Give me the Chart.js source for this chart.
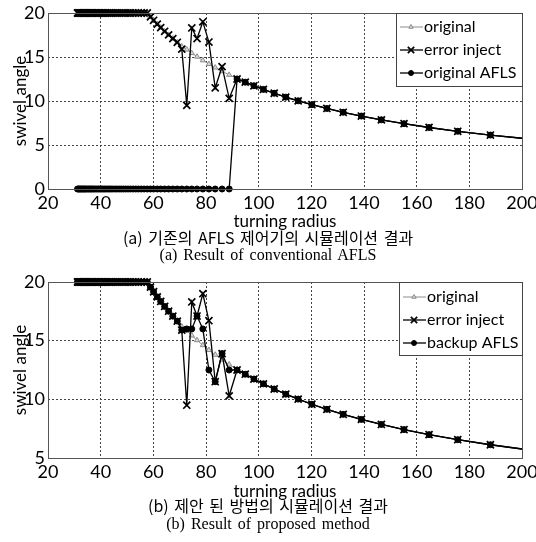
<!DOCTYPE html>
<html>
<head>
<meta charset="utf-8">
<script src="https://cdn.jsdelivr.net/npm/chart.js@4.4.0/dist/chart.umd.min.js"></script>
<style>
  body { margin: 0; background: #fff; }
  #wrap { position: relative; width: 536px; height: 542px; overflow: hidden; }
  canvas { position: absolute; left: 0; }
  .cap { position: absolute; left: 0; width: 536px; text-align: center; color: #000; white-space: nowrap; }
  .ko { font-family: "Noto Sans CJK KR"; font-size: 16px; word-spacing: 2px; }
  .en { font-family: "Liberation Serif"; font-size: 16px; word-spacing: 2px; }
</style>
</head>
<body>
<div id="wrap">
  <canvas id="chartA" width="536" height="232" style="top:0"></canvas>
  <canvas id="chartB" width="536" height="232" style="top:270px"></canvas>
  <div class="cap ko" style="top:225px">(a) 기존의 AFLS 제어기의 시뮬레이션 결과</div>
  <div class="cap en" style="top:246px">(a) Result of conventional AFLS</div>
  <div class="cap ko" style="top:493px">(b) 제안 된 방법의 시뮬레이션 결과</div>
  <div class="cap en" style="top:515px">(b) Result of proposed method</div>
</div>
<script>
// turning radius of every sample (ascending)
const radius = [31.2, 31.6, 31.9, 32.3, 32.7, 33.1, 33.5, 33.9, 34.3, 34.7,
  35.2, 35.6, 36.1, 36.5, 37.0, 37.5, 38.0, 38.6, 39.1, 39.7,
  40.2, 40.8, 41.4, 42.0, 42.7, 43.3, 44.0, 44.7, 45.5, 46.2,
  47.0, 47.8, 48.6, 49.5, 50.4, 51.3, 52.3, 53.3, 54.3, 55.4,
  56.5, 57.7, 58.9, 60.1, 61.5, 62.8, 64.3, 65.8, 67.4, 69.1,
  70.8, 72.7, 74.6, 76.6, 78.8, 81.1, 83.5, 86.1, 88.8, 91.8,
  94.9, 98.2, 101.8, 105.9, 110.3, 115.0, 120.2, 125.9, 132.1, 139.0,
  146.6, 155.2, 164.7, 175.6, 188.0, 202.2];

const original = [20, 20, 20, 20, 20, 20, 20, 20, 20, 20,
  20, 20, 20, 20, 20, 20, 20, 20, 20, 20,
  20, 20, 20, 20, 20, 20, 20, 20, 20, 20,
  20, 20, 20, 20, 20, 20, 20, 20, 20, 20,
  20, 20, 19.56, 19.17, 18.73, 18.34, 17.92, 17.51, 17.09, 16.67,
  16.2, 15.85, 15.44, 15.04, 14.62, 14.20, 13.80, 13.38, 12.97, 12.55,
  12.14, 11.73, 11.32, 10.88, 10.44, 10.02, 9.58, 9.15, 8.72, 8.29,
  7.86, 7.42, 6.99, 6.56, 6.13, 5.70];

const errorInject = [20, 20, 20, 20, 20, 20, 20, 20, 20, 20,
  20, 20, 20, 20, 20, 20, 20, 20, 20, 20,
  20, 20, 20, 20, 20, 20, 20, 20, 20, 20,
  20, 20, 20, 20, 20, 20, 20, 20, 20, 20,
  20, 20, 19.56, 19.17, 18.73, 18.34, 17.92, 17.51, 17.09, 16.67,
  15.9, 9.5, 18.3, 17.1, 19.0, 16.7, 11.5, 13.9, 10.3, 12.5,
  12.14, 11.73, 11.32, 10.88, 10.44, 10.02, 9.58, 9.15, 8.72, 8.29,
  7.86, 7.42, 6.99, 6.56, 6.13, 5.70];

const originalAfls = [0, 0, 0, 0, 0, 0, 0, 0, 0, 0,
  0, 0, 0, 0, 0, 0, 0, 0, 0, 0,
  0, 0, 0, 0, 0, 0, 0, 0, 0, 0,
  0, 0, 0, 0, 0, 0, 0, 0, 0, 0,
  0, 0, 0, 0, 0, 0, 0, 0, 0, 0,
  0, 0, 0, 0, 0, 0, 0, 0, 0, 12.5,
  12.14, 11.73, 11.32, 10.88, 10.44, 10.02, 9.58, 9.15, 8.72, 8.29,
  7.86, 7.42, 6.99, 6.56, 6.13, 5.70];

const backupAfls = [20, 20, 20, 20, 20, 20, 20, 20, 20, 20,
  20, 20, 20, 20, 20, 20, 20, 20, 20, 20,
  20, 20, 20, 20, 20, 20, 20, 20, 20, 20,
  20, 20, 20, 20, 20, 20, 20, 20, 20, 20,
  20, 20, 19.56, 19.17, 18.73, 18.34, 17.92, 17.51, 17.09, 16.67,
  15.9, 16.0, 16.0, 17.1, 16.0, 12.5, 11.5, 13.9, 12.5, 12.5,
  12.14, 11.73, 11.32, 10.88, 10.44, 10.02, 9.58, 9.15, 8.72, 8.29,
  7.86, 7.42, 6.99, 6.56, 6.13, 5.70];

const FONT = 'Lato';

function pts(values) {
  return radius.map((r, i) => ({ x: r, y: values[i] }));
}

const styles = {
  original: { color: '#8c8c8c', pointStyle: 'triangle', radius: 3, fill: '#d8d8d8', borderWidth: 1, lineWidth: 1 },
  error: { color: '#000', pointStyle: 'crossRot', radius: 5, fill: '#000', borderWidth: 1.7, lineWidth: 1.3 },
  afls: { color: '#000', pointStyle: 'circle', radius: 3, fill: '#000', borderWidth: 1, lineWidth: 1.3 }
};

function ds(label, values, st, order) {
  return {
    label: label,
    data: pts(values),
    borderColor: st.color,
    borderWidth: st.lineWidth,
    pointStyle: st.pointStyle,
    pointRadius: st.radius,
    pointBorderWidth: st.borderWidth,
    pointBorderColor: st.color,
    pointBackgroundColor: st.fill,
    tension: 0,
    order: order,
    clip: { left: 10, top: 10, right: 0, bottom: 10 }
  };
}

// frame + legend inside plot
function extras(items, box) {
  return {
    id: 'extras',
    afterDraw(chart) {
      const ctx = chart.ctx;
      const a = chart.chartArea;
      ctx.save();
      ctx.strokeStyle = '#555';
      ctx.lineWidth = 1;
      ctx.strokeRect(Math.round(a.left) + 0.5, Math.round(a.top) + 0.5, Math.round(a.right - a.left), Math.round(a.bottom - a.top));

      ctx.fillStyle = '#fff';
      ctx.fillRect(box.x, box.y, box.w, box.h);
      ctx.strokeStyle = '#444';
      ctx.strokeRect(box.x + 0.5, box.y + 0.5, box.w, box.h);
      items.forEach((it, i) => {
        const y = box.y + box.row0 + i * 23;
        const st = it.st;
        ctx.strokeStyle = st.color;
        ctx.lineWidth = st.lineWidth;
        ctx.beginPath();
        ctx.moveTo(box.x + 4, y);
        ctx.lineTo(box.x + 27, y);
        ctx.stroke();
        ctx.fillStyle = st.fill;
        ctx.strokeStyle = st.color;
        ctx.lineWidth = st.borderWidth;
        Chart.helpers.drawPoint(ctx, { pointStyle: st.pointStyle, radius: st.radius - 0.5, borderWidth: st.borderWidth, rotation: 0 }, box.x + 15, y);
        ctx.fillStyle = '#000';
        ctx.font = '16px ' + FONT;
        ctx.textBaseline = 'middle';
        ctx.fillText(it.label, box.x + 28, y);
      });
      ctx.restore();
    }
  };
}

function makeChart(id, sets, yMin, padTop, xHeight, legendItems, box) {
  new Chart(document.getElementById(id), {
    type: 'line',
    data: { datasets: sets },
    options: {
      responsive: false,
      animation: false,
      layout: { padding: { top: padTop, right: 14, left: 0, bottom: 0 } },
      plugins: { legend: { display: false }, tooltip: { enabled: false } },
      scales: {
        x: {
          type: 'linear',
          min: 20,
          max: 200,
          ticks: { stepSize: 20, color: '#000', font: { family: FONT, size: 18 }, padding: 3, maxRotation: 0 },
          grid: { color: '#444', drawTicks: false },
          border: { display: false, dash: [2, 2] },
          title: { display: true, text: 'turning radius', color: '#000', font: { family: FONT, size: 17 }, padding: { top: 0, bottom: 0 } },
          afterFit(s) { s.height = xHeight; s.paddingLeft = 0; s.paddingRight = 0; }
        },
        y: {
          min: yMin,
          max: 20,
          ticks: { stepSize: 5, color: '#000', font: { family: FONT, size: 18 }, padding: 3 },
          grid: { color: '#444', drawTicks: false },
          border: { display: false, dash: [2, 2] },
          title: { display: true, text: 'swivel angle', color: '#000', font: { family: FONT, size: 17 }, padding: { top: 10, bottom: 0 } },
          afterFit(s) { s.width = 48; s.paddingTop = 0; s.paddingBottom = 0; }
        }
      }
    },
    plugins: [extras(legendItems, box)]
  });
}

makeChart('chartA', [
  ds('original', original, styles.original, 3),
  ds('error inject', errorInject, styles.error, 2),
  ds('original AFLS', originalAfls, styles.afls, 1)
], 0, 13, 43, [
  { label: 'original', st: styles.original },
  { label: 'error inject', st: styles.error },
  { label: 'original AFLS', st: styles.afls }
], { x: 396, y: 13, w: 126, h: 73, row0: 14 });

makeChart('chartB', [
  ds('original', original, styles.original, 3),
  ds('error inject', errorInject, styles.error, 2),
  ds('backup AFLS', backupAfls, styles.afls, 1)
], 5, 12, 44, [
  { label: 'original', st: styles.original },
  { label: 'error inject', st: styles.error },
  { label: 'backup AFLS', st: styles.afls }
], { x: 399, y: 12, w: 123, h: 73, row0: 15 });
</script>
</body>
</html>
